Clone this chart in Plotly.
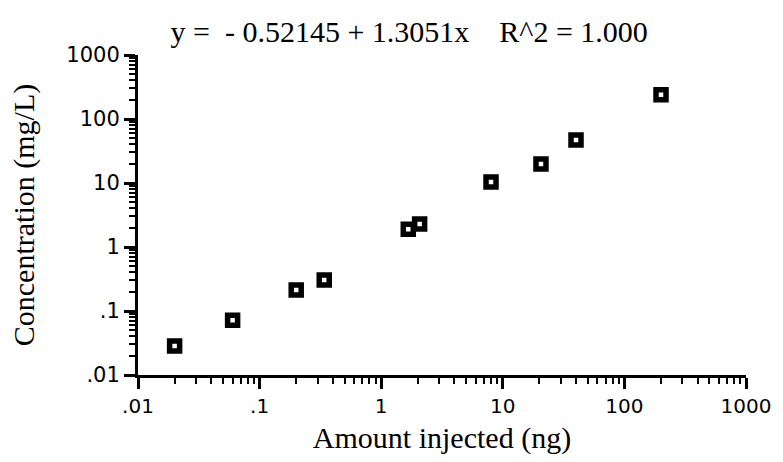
import plotly.graph_objects as go

# Data
amount_ng = [0.02, 0.06, 0.2, 0.34, 1.67, 2.07, 8.0, 20.6, 40.0, 200.0]
concentration = [0.0284, 0.072, 0.213, 0.305, 1.89, 2.29, 10.4, 19.8, 47.0, 240.0]

tick_vals = [0.01, 0.1, 1, 10, 100, 1000]
x_tick_text = [".01", ".1", "1", "10", "100", "1000"]
y_tick_text = [".01", ".1", "1", "10", "100", "1000"]

title_text = "y =  - 0.52145 + 1.3051x    R^2 = 1.000"
x_title = "Amount injected (ng)"
y_title = "Concentration (mg/L)"

minor_vals = [m * 10.0 ** e for e in range(-2, 3) for m in range(2, 10)]

fig = go.Figure()
fig.add_trace(go.Scatter(
    x=amount_ng, y=concentration, mode="markers",
    marker=dict(symbol="square-open", size=10, color="black",
                line=dict(color="black", width=5.5)),
    showlegend=False, cliponaxis=False,
))

serif = "Liberation Serif, Times New Roman, serif"
sans = "DejaVu Sans, Arial, sans-serif"

axis_common = dict(
    type="log", range=[-2, 3], showgrid=False, zeroline=False,
    showline=True, linecolor="black", linewidth=3,
    ticks="outside", ticklen=11, tickwidth=2.5, tickcolor="black",
    tickmode="array", tickvals=tick_vals,
    minor=dict(ticks="outside", ticklen=6, tickwidth=2, tickcolor="black",
               tickmode="array", tickvals=minor_vals, showgrid=False),
)

fig.update_layout(
    width=783, height=462,
    margin=dict(l=138, r=31, t=55, b=87),
    plot_bgcolor="white", paper_bgcolor="white",
    title=dict(text=title_text, font=dict(family=serif, size=30, color="black"),
               x=0.446, xref="paper", xanchor="center",
               y=1 - 31 / 462, yref="container", yanchor="middle"),
    xaxis=dict(**axis_common, ticktext=x_tick_text,
               tickfont=dict(family=sans, size=20, color="black"),
               title=dict(text=x_title, font=dict(family=serif, size=30, color="black"), standoff=10)),
    yaxis=dict(**axis_common, ticktext=y_tick_text,
               tickfont=dict(family=sans, size=21, color="black"),
               title=dict(text=y_title, font=dict(family=serif, size=30, color="black"), standoff=23)),
)

fig.write_html("out.html")
